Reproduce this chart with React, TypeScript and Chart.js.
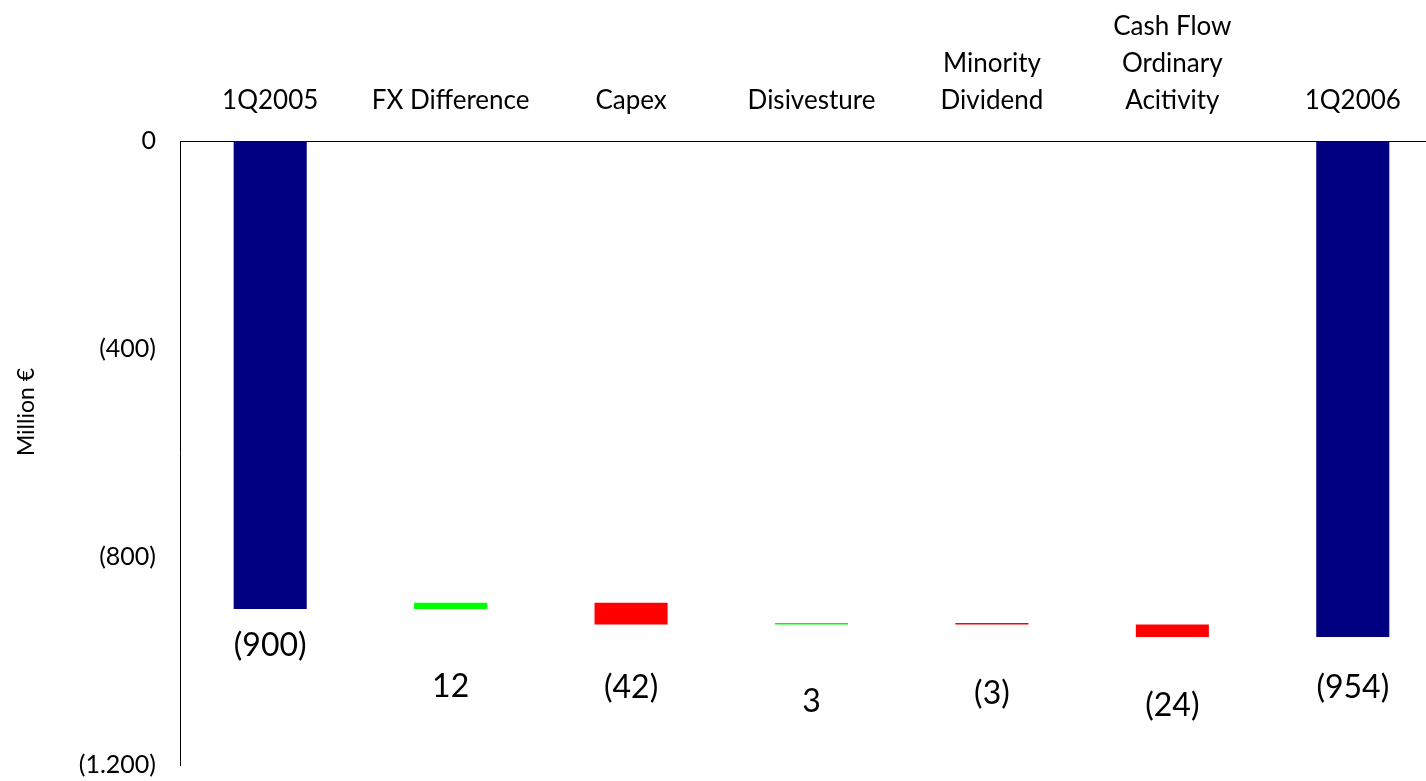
import React, { useEffect, useRef } from 'react';
import { Chart, registerables } from 'chart.js';

Chart.register(...registerables);

// Waterfall steps from the opening to the closing net position (million €)
const categories: (string | string[])[] = [
  '1Q2005',
  'FX Difference',
  'Capex',
  'Disivesture',
  ['Minority', 'Dividend'],
  ['Cash Flow', 'Ordinary', 'Acitivity'],
  '1Q2006',
];
const values = [-900, 12, -42, 3, -3, -24, -954];
const isTotal = [true, false, false, false, false, false, true];
const yTicks = [0, -400, -800, -1200];

// vertical gap (px) between each bar's lower end and its value label
const labelDrop = [37, 78, 63, 77, 69, 69, 51];

const FONT = 'Lato, "Open Sans", "DejaVu Sans", sans-serif';
const TOTAL_COLOR = '#000080';
const UP_COLOR = '#00ff00';
const DOWN_COLOR = '#ff0000';

function fmt(v: number): string {
  const s = String(Math.abs(v)).replace(/\B(?=(\d{3})+(?!\d))/g, '.');
  return v < 0 ? `(${s})` : s;
}

function buildRanges(): [number, number][] {
  let running = 0;
  return values.map((v, i) => {
    if (isTotal[i]) {
      running = v;
      return [0, v] as [number, number];
    }
    const start = running;
    running += v;
    return [start, running] as [number, number];
  });
}

const valueLabels = {
  id: 'valueLabels',
  afterDatasetsDraw(chart: any) {
    const ctx = chart.ctx;
    const meta = chart.getDatasetMeta(0);
    ctx.save();
    ctx.font = `32px ${FONT}`;
    ctx.fillStyle = '#000';
    ctx.textAlign = 'center';
    ctx.textBaseline = 'middle';
    meta.data.forEach((bar: any, i: number) => {
      const low = Math.max(bar.y, bar.base);
      ctx.fillText(fmt(values[i]), bar.x, low + labelDrop[i]);
    });
    ctx.restore();
  },
};

const axisTitle = {
  id: 'axisTitle',
  afterDraw(chart: any) {
    const ctx = chart.ctx;
    ctx.save();
    ctx.translate(27, 412);
    ctx.rotate(-Math.PI / 2);
    ctx.font = `23px ${FONT}`;
    ctx.fillStyle = '#000';
    ctx.textAlign = 'center';
    ctx.textBaseline = 'middle';
    ctx.fillText('Million €', 0, 0);
    ctx.restore();
  },
};

export default function App() {
  const canvasRef = useRef<HTMLCanvasElement>(null);

  useEffect(() => {
    if (!canvasRef.current) return;
    const ranges = buildRanges();
    const colors = values.map((v, i) =>
      isTotal[i] ? TOTAL_COLOR : v >= 0 ? UP_COLOR : DOWN_COLOR
    );

    const chart = new Chart(canvasRef.current, {
      type: 'bar',
      data: {
        labels: categories as any,
        datasets: [
          {
            data: ranges as any,
            backgroundColor: colors,
            borderWidth: 0,
            categoryPercentage: 1,
            barPercentage: 0.405,
          },
        ],
      },
      options: {
        responsive: false,
        animation: false,
        layout: { padding: { left: 0, top: 0, right: 0, bottom: 16 } },
        plugins: {
          legend: { display: false },
          tooltip: { enabled: false },
        },
        scales: {
          x: {
            position: 'top',
            grid: { display: false, drawTicks: false },
            border: { display: true, color: '#000', width: 1 },
            ticks: {
              color: '#000',
              padding: 22,
              maxRotation: 0,
              autoSkip: false,
              font: { family: FONT, size: 26, lineHeight: 1.42 },
            },
            afterFit(scale: any) {
              scale.height = 141;
              scale.paddingLeft = 0;
              scale.paddingRight = 0;
            },
          },
          y: {
            min: -1200,
            max: 0,
            grid: { display: false, drawTicks: false },
            border: { display: true, color: '#000', width: 1 },
            afterBuildTicks(scale: any) {
              scale.ticks = yTicks.map((v) => ({ value: v }));
            },
            ticks: {
              color: '#000',
              padding: 24,
              font: { family: FONT, size: 25 },
              callback: (v: any) => fmt(Number(v)),
            },
            afterFit(scale: any) {
              scale.width = 180;
              scale.paddingTop = 0;
              scale.paddingBottom = 0;
            },
          },
        },
      },
      plugins: [valueLabels, axisTitle],
    });

    return () => chart.destroy();
  }, []);

  return (
    <div
      style={{
        position: 'absolute',
        left: 0,
        top: 0,
        width: 1426,
        height: 781,
        overflow: 'hidden',
        background: '#fff',
      }}
    >
      <canvas ref={canvasRef} width={1443} height={781} style={{ display: 'block' }} />
    </div>
  );
}
